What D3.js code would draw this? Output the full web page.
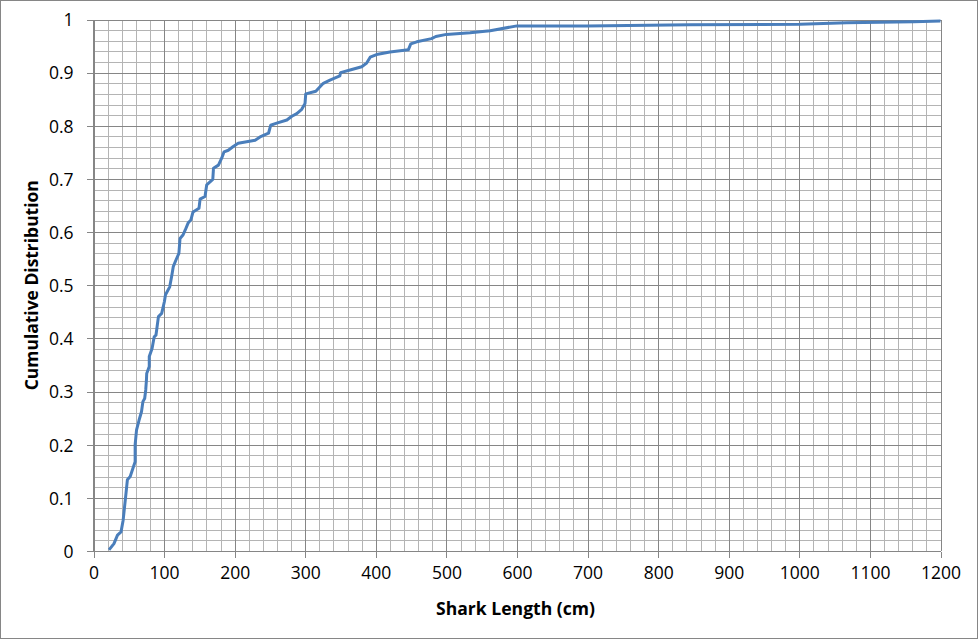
<!DOCTYPE html>
<html>
<head>
<meta charset="utf-8">
<script src="https://cdn.jsdelivr.net/npm/d3@7"></script>
<style>
  html, body { margin: 0; padding: 0; background: #fff; }
  svg { display: block; }
</style>
</head>
<body>
<svg id="chart" width="978" height="639"></svg>
<script>
// ---- data ----
const lengthCm = [22, 29, 34, 39, 42, 44, 46, 48, 52, 56, 59, 59, 61, 64.5, 68, 70, 72.5, 74, 75, 75.4,
  79, 79, 83, 86, 88.5, 92, 96.6, 100.4, 102, 108, 111, 113, 117, 121, 122.6, 127, 130, 134, 138, 141,
  149.5, 151, 158, 160.4, 169, 170, 177, 181.6, 185, 191, 198, 205, 217, 229, 236, 248, 251, 259.6, 274, 281,
  288, 295, 299.7, 300.7, 315, 325.6, 335, 349, 350, 366, 380, 387, 392, 401, 420, 446, 449.5, 458, 479, 485,
  500, 533.5, 562, 600, 699, 845, 1001, 1067, 1162, 1200];
const cumulative = [0.002, 0.014, 0.03, 0.036, 0.058, 0.083, 0.108, 0.134, 0.14, 0.156, 0.168, 0.2, 0.228, 0.246, 0.262, 0.281, 0.287, 0.303, 0.322, 0.334,
  0.347, 0.366, 0.381, 0.403, 0.406, 0.441, 0.447, 0.469, 0.482, 0.497, 0.519, 0.535, 0.548, 0.56, 0.588, 0.595, 0.604, 0.617, 0.623, 0.638,
  0.645, 0.662, 0.667, 0.689, 0.699, 0.72, 0.726, 0.739, 0.751, 0.754, 0.761, 0.767, 0.770, 0.773, 0.779, 0.786, 0.801, 0.805, 0.811, 0.818,
  0.823, 0.831, 0.842, 0.86, 0.865, 0.88, 0.886, 0.894, 0.90, 0.906, 0.911, 0.918, 0.929, 0.934, 0.939, 0.943, 0.954, 0.958, 0.964, 0.968,
  0.972, 0.975, 0.979, 0.988, 0.988, 0.990, 0.991, 0.994, 0.996, 0.997];
const xTickValues = [0, 100, 200, 300, 400, 500, 600, 700, 800, 900, 1000, 1100, 1200];
const xTickLabels = ["0", "100", "200", "300", "400", "500", "600", "700", "800", "900", "1000", "1100", "1200"];
const yTickValues = [0, 0.1, 0.2, 0.3, 0.4, 0.5, 0.6, 0.7, 0.8, 0.9, 1];
const yTickLabels = ["0", "0.1", "0.2", "0.3", "0.4", "0.5", "0.6", "0.7", "0.8", "0.9", "1"];
const xTitle = "Shark Length (cm)";
const yTitle = "Cumulative Distribution";

// ---- layout ----
const W = 978, H = 639;
const pLeft = 93.5, pRight = 940.5, pTop = 19.5, pBottom = 551;
const svg = d3.select("#chart");
const font = "'Open Sans', 'Liberation Sans', sans-serif";
const majorCol = "#868686", minorCol = "#b4b4b4";

svg.append("rect").attr("x", 0.5).attr("y", 0.5).attr("width", W - 1).attr("height", H - 1)
  .attr("fill", "#fff").attr("stroke", "#868686").attr("stroke-width", 1);

const x = d3.scaleLinear().domain([0, 1200]).range([pLeft, pRight]);
const y = d3.scaleLinear().domain([0, 1]).range([pBottom, pTop]);

const grid = svg.append("g").attr("shape-rendering", "crispEdges");
const xMinor = d3.range(0, 1201, 20).filter(v => v % 100 !== 0);
const yMinor = d3.range(0, 51, 1).filter(v => v % 5 !== 0).map(v => v / 50);
grid.selectAll(".xm").data(xMinor).join("line")
  .attr("x1", d => Math.round(x(d)) + 0.5).attr("x2", d => Math.round(x(d)) + 0.5)
  .attr("y1", pTop).attr("y2", pBottom).attr("stroke", minorCol);
grid.selectAll(".ym").data(yMinor).join("line")
  .attr("y1", d => Math.round(y(d)) + 0.5).attr("y2", d => Math.round(y(d)) + 0.5)
  .attr("x1", pLeft).attr("x2", pRight).attr("stroke", minorCol);
grid.selectAll(".xM").data(xTickValues).join("line")
  .attr("x1", d => Math.round(x(d)) + 0.5).attr("x2", d => Math.round(x(d)) + 0.5)
  .attr("y1", pTop).attr("y2", pBottom).attr("stroke", majorCol);
grid.selectAll(".yM").data(yTickValues).join("line")
  .attr("y1", d => Math.round(y(d)) + 0.5).attr("y2", d => Math.round(y(d)) + 0.5)
  .attr("x1", pLeft).attr("x2", pRight).attr("stroke", majorCol);

const xAxis = d3.axisBottom(x).tickValues(xTickValues)
  .tickFormat((d, i) => xTickLabels[i]).tickSize(6).tickPadding(9);
const yAxis = d3.axisLeft(y).tickValues(yTickValues)
  .tickFormat((d, i) => yTickLabels[i]).tickSize(7).tickPadding(13);

const gx = svg.append("g").attr("transform", `translate(0,${Math.round(pBottom) + 0.5})`).call(xAxis);
const gy = svg.append("g").attr("transform", `translate(${Math.round(pLeft) - 0.5},0)`).call(yAxis);
[gx, gy].forEach(g => {
  g.select(".domain").attr("stroke", majorCol).attr("shape-rendering", "crispEdges");
  g.selectAll(".tick line").attr("stroke", majorCol).attr("shape-rendering", "crispEdges");
  g.selectAll(".tick text").attr("fill", "#000").style("font-family", font).style("font-size", "17.5px");
});
gx.select(".domain").attr("d", `M${pLeft},0H${pRight}`);
gy.select(".domain").attr("d", `M0,${pTop}V${pBottom}`);
gy.selectAll(".tick text").attr("dy", "0.36em");

const pts = lengthCm.map((v, i) => [v, cumulative[i]]);
svg.append("path").datum(pts)
  .attr("fill", "none").attr("stroke", "#4a7ebb").attr("stroke-width", 3)
  .attr("stroke-linejoin", "round").attr("stroke-linecap", "butt")
  .attr("d", d3.line().x(d => x(d[0])).y(d => y(d[1])));

svg.append("text").attr("x", 515.5).attr("y", 615).attr("text-anchor", "middle")
  .style("font-family", font).style("font-weight", "bold").style("font-size", "17px")
  .attr("textLength", 159).attr("lengthAdjust", "spacingAndGlyphs")
  .text(xTitle);
svg.append("text").attr("transform", `translate(38,${(pTop + pBottom) / 2}) rotate(-90)`)
  .attr("text-anchor", "middle")
  .style("font-family", font).style("font-weight", "bold").style("font-size", "17px")
  .attr("textLength", 210).attr("lengthAdjust", "spacingAndGlyphs")
  .text(yTitle);
</script>
</body>
</html>
